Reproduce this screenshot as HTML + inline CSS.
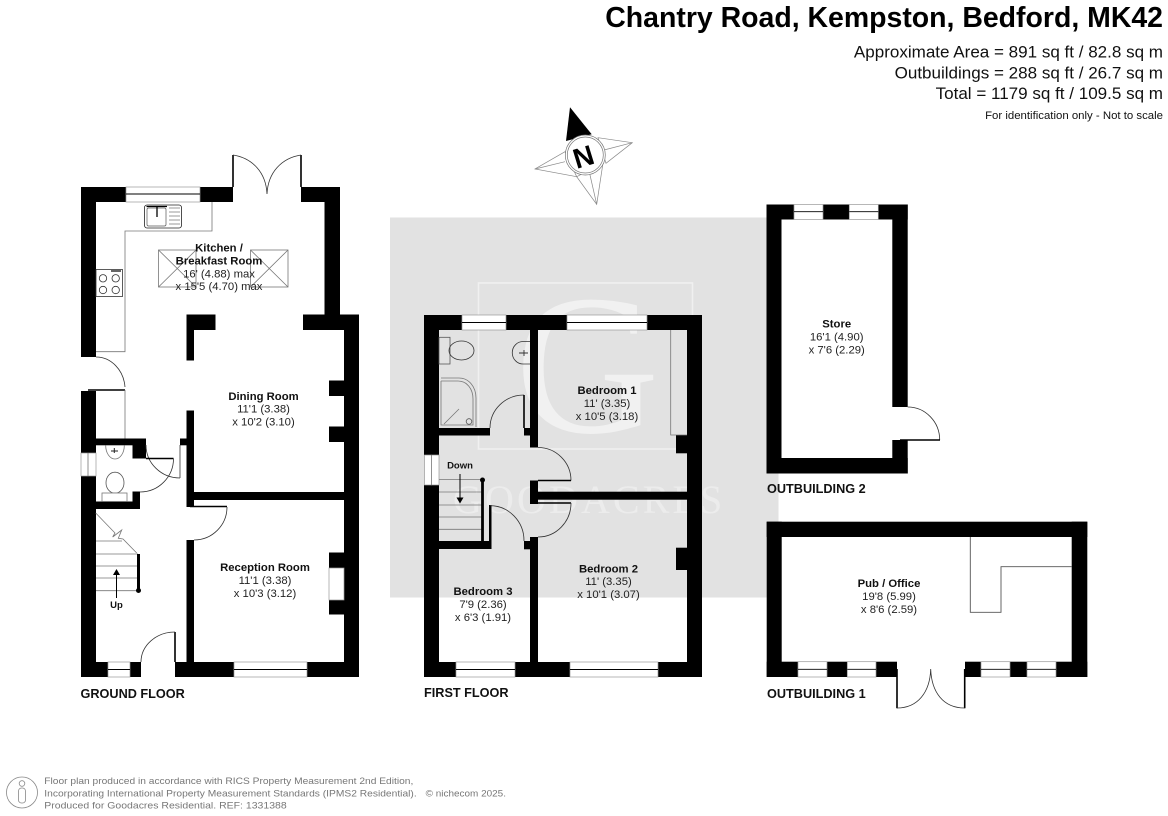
<!DOCTYPE html>
<html lang="en"><head><meta charset="utf-8"><title>Chantry Road Floor Plan</title>
<style>
html,body{margin:0;padding:0;background:#fff;width:1168px;height:816px;overflow:hidden}
svg{display:block}
text{font-family:"Liberation Sans",Arial,sans-serif;fill:#111}
.b{font-weight:bold;font-size:11.3px;text-anchor:middle}
.r{font-size:11.3px;text-anchor:middle;fill:#222}
.f{font-weight:bold;font-size:12.7px;fill:#111}
.h{text-anchor:end}
.ft{font-size:9.3px;fill:#777}
.w{fill:#000}
.win{fill:#fff;stroke:#999;stroke-width:.7}
.mid{stroke:#000;stroke-width:.9;fill:none}
.thin{stroke:#333;stroke-width:.8;fill:none}
.gr{stroke:#777;stroke-width:.8;fill:none}
.leaf{stroke:#000;stroke-width:1.6;fill:none}
</style></head><body>
<svg width="1168" height="816" viewBox="0 0 1168 816" xmlns="http://www.w3.org/2000/svg">
<rect width="1168" height="816" fill="#fff"/>

<!-- watermark -->
<rect x="390" y="217.5" width="388.500" height="380" fill="#e2e2e2"/>
<rect x="478.500" y="283" width="214" height="166" fill="none" stroke="#f0f0f0" stroke-width="1.600"/>
<text x="515" y="432" style="font-family:'Liberation Serif',serif;font-size:200px;fill:#f1f1f1">G</text>
<text x="453" y="513" style="font-family:'Liberation Serif',serif;font-size:40px;letter-spacing:3.100px;fill:#ececec">GOODACRES</text>

<!-- heading -->
<text x="1163" y="27" class="h" style="font-size:28.450px;font-weight:bold;fill:#000">Chantry Road, Kempston, Bedford, MK42</text>
<text x="1163" y="57.500" class="h" style="font-size:17.050px">Approximate Area = 891 sq ft / 82.8 sq m</text>
<text x="1163" y="78.500" class="h" style="font-size:17.050px">Outbuildings = 288 sq ft / 26.7 sq m</text>
<text x="1163" y="99" class="h" style="font-size:17.050px">Total = 1179 sq ft / 109.5 sq m</text>
<text x="1163" y="119" class="h" style="font-size:11.400px">For identification only - Not to scale</text>

<!-- compass -->
<g>
<polygon points="570,107.300 566,141 591.700,134.300" fill="#000"/>
<polygon points="598,137.700 632.300,142.700 606,163.300" fill="#fff" stroke="#888" stroke-width=".7"/>
<polygon points="603,163 596.700,204.300 576.700,176.700" fill="#fff" stroke="#888" stroke-width=".7"/>
<polygon points="565,151.700 535,169 576.700,176.700" fill="#fff" stroke="#888" stroke-width=".7"/>
<path d="M632.300 142.700L604 150M596.700 204.300L590 175M535 169L565 161.700" stroke="#888" stroke-width=".7" fill="none"/>
<circle cx="585.300" cy="155" r="20" fill="#fff" stroke="#777" stroke-width=".7"/>
<circle cx="585.300" cy="155" r="18" fill="#fff" stroke="#777" stroke-width=".7"/>
<text x="583.500" y="166.500" transform="rotate(-17 583.500 157)" style="font-size:28px;font-weight:bold;text-anchor:middle;fill:#000">N</text>
</g>

<!-- GROUND FLOOR walls -->
<g class="w">
<rect x="81" y="187" width="45" height="15"/>
<rect x="200" y="187" width="33" height="15"/>
<rect x="301" y="187" width="39" height="15"/>
<rect x="81" y="187" width="15" height="170"/>
<rect x="324.500" y="187" width="15.500" height="130"/>
<rect x="303" y="314.500" width="56" height="15.500"/>
<rect x="344" y="314.500" width="15" height="362.500"/>
<rect x="186.500" y="314.500" width="29" height="15.500"/>
<rect x="186.500" y="314.500" width="7.500" height="46"/>
<rect x="186.500" y="410.500" width="7.500" height="96.500"/>
<rect x="186.500" y="492" width="157.500" height="8"/>
<rect x="186.500" y="540" width="7.500" height="122"/>
<rect x="329" y="380.500" width="15" height="15.500"/>
<rect x="329" y="426.500" width="15" height="15.500"/>
<rect x="329" y="552.500" width="15" height="15.500"/>
<rect x="329" y="600" width="15" height="14.500"/>
<rect x="81" y="391" width="15" height="62"/>
<rect x="81" y="476" width="15" height="201"/>
<rect x="81" y="662" width="27" height="15"/>
<rect x="130" y="662" width="11" height="15"/>
<rect x="175" y="662" width="59" height="15"/>
<rect x="307" y="662" width="52" height="15"/>
<rect x="96" y="438.500" width="50" height="6.800"/>
<rect x="132.500" y="445" width="13.500" height="13.500"/>
<rect x="132.500" y="491.500" width="7.500" height="17.500"/>
<rect x="96" y="501.500" width="44" height="7.500"/>
<rect x="180" y="438.500" width="6.500" height="6.800"/>
</g>
<!-- ground windows -->
<rect x="126" y="187" width="74" height="15" class="win"/><path d="M126 194H200" class="mid"/>
<rect x="108" y="662" width="22" height="15" class="win"/><path d="M108 669.500H130" class="mid"/>
<rect x="234" y="662" width="73" height="15" class="win"/><path d="M234 669.500H307" class="mid"/>
<rect x="81" y="453" width="15" height="23" class="win"/><path d="M88 453V476" class="gr"/>
<rect x="329" y="568" width="15" height="32" class="win"/>
<!-- ground doors -->
<path d="M233 155V187M301 155V187" class="leaf"/>
<path d="M233 155C252 158 266 172 267 194M301 155C282 158 268 172 267 194" class="thin"/>
<path d="M96 357A29 33 0 0 1 125 387" class="thin"/>
<path d="M88 390H125" class="leaf"/>
<path d="M146 445A34 33 0 0 0 180 478" class="thin"/>
<path d="M180 445V478" class="thin"/>
<path d="M146 458.500H173.500" class="leaf"/>
<path d="M173.500 458.500A33.500 33.500 0 0 1 140 492" class="thin"/>
<path d="M190 506.500H227" class="leaf"/>
<path d="M227 507A33 33 0 0 1 194 540" class="thin"/>
<path d="M175 632V662" class="leaf"/>
<path d="M175 632A34 30 0 0 0 141 662" class="thin"/>
<!-- kitchen units -->
<path d="M212 202V231H125V351.700H96M125 390V438.500" class="gr"/>
<rect x="144.500" y="205" width="37" height="23" rx="2.500" fill="#fff" stroke="#222" stroke-width=".8"/>
<rect x="147" y="208" width="19" height="18" rx="1.500" fill="none" stroke="#555" stroke-width=".7"/>
<path d="M169 208H180M169 212H180M169 216H180M169 220H180M169 224H180" class="gr"/>
<path d="M146.500 206.500H167" stroke="#000" stroke-width="1.200"/>
<path d="M157 207V217" stroke="#000" stroke-width="1.300"/>
<rect x="96" y="269.500" width="26.500" height="27" fill="#fff" stroke="#333" stroke-width=".8"/>
<path d="M111 271H121" stroke="#000" stroke-width="1.200"/>
<g class="thin"><circle cx="103" cy="278.300" r="3.700"/><circle cx="115.700" cy="278.300" r="3.700"/><circle cx="103" cy="290" r="3.700"/><circle cx="115.700" cy="290" r="3.700"/></g>
<!-- skylights -->
<g class="gr">
<rect x="158.500" y="250" width="37.500" height="37"/><path d="M158.500 250L196 287M196 250L158.500 287"/>
<rect x="250.500" y="250" width="37.500" height="37"/><path d="M250.500 250L288 287M288 250L250.500 287"/>
</g>
<!-- cloakroom -->
<path d="M105.700 445.500A9.300 13.500 0 0 0 124.300 445.500" class="gr"/>
<path d="M114.300 448V453M111 451H118" stroke="#222" stroke-width="1"/>
<ellipse cx="115" cy="482.700" rx="9" ry="10.500" fill="#fff" stroke="#555" stroke-width=".8"/>
<rect x="102" y="493" width="25" height="8.500" fill="#fff" stroke="#777" stroke-width=".8"/>
<!-- ground stairs -->
<path d="M96 541H122M96 554H138M96 566H138M96 578H138M96 590.700H138" class="gr"/>
<path d="M95.700 513L115 533L112.700 537L121.700 530L118.300 538.300L123 539L136.700 553" class="gr"/>
<path d="M138.500 554V590.500" stroke="#000" stroke-width="3"/><circle cx="138.500" cy="590.500" r="2.500" fill="#000"/>
<path d="M116.500 598V574" stroke="#000" stroke-width="1"/><polygon points="116.500,569 113,575 120,575" fill="#000"/>
<text x="116.500" y="608" style="font-weight:bold;font-size:9.500px;text-anchor:middle">Up</text>

<!-- ground text -->
<text class="b" x="219" y="251.500">Kitchen /</text>
<text class="b" x="219" y="264.500">Breakfast Room</text>
<text class="r" x="219" y="277.500">16' (4.88) max</text>
<text class="r" x="219" y="290">x 15'5 (4.70) max</text>
<text class="b" x="263.500" y="400">Dining Room</text>
<text class="r" x="263.500" y="412.500">11'1 (3.38)</text>
<text class="r" x="263.500" y="425.500">x 10'2 (3.10)</text>
<text class="b" x="265" y="571">Reception Room</text>
<text class="r" x="265" y="584">11'1 (3.38)</text>
<text class="r" x="265" y="597">x 10'3 (3.12)</text>
<text class="f" x="80.500" y="698">GROUND FLOOR</text>

<!-- FIRST FLOOR walls -->
<g class="w">
<rect x="424" y="315" width="38" height="15"/>
<rect x="506" y="315" width="61" height="15"/>
<rect x="647" y="315" width="55" height="15"/>
<rect x="424" y="315" width="15" height="140"/>
<rect x="424" y="485" width="15" height="192"/>
<rect x="687" y="315" width="15" height="362"/>
<rect x="424" y="662" width="32" height="15"/>
<rect x="515" y="662" width="55" height="15"/>
<rect x="658" y="662" width="44" height="15"/>
<rect x="530" y="330" width="8" height="117.500"/>
<rect x="530" y="480.500" width="8" height="23.500"/>
<rect x="530" y="491.700" width="157" height="8"/>
<rect x="530" y="537" width="8" height="125"/>
<rect x="524" y="541" width="6" height="8.300"/>
<rect x="439" y="541" width="52" height="8"/>
<rect x="489" y="505" width="2.500" height="44"/>
<rect x="439" y="428" width="51" height="7.500"/>
<rect x="524" y="428" width="6" height="7.500"/>
<rect x="676" y="435" width="11" height="18.300"/>
<rect x="676" y="547.700" width="11" height="22.300"/>
</g>
<!-- first windows -->
<rect x="462" y="315" width="44" height="15" class="win"/><path d="M462 322.500H506" class="mid"/>
<rect x="567" y="315" width="80" height="15" class="win"/><path d="M567 322.500H647" class="mid"/>
<rect x="456" y="662" width="59" height="15" class="win"/><path d="M456 669.500H515" class="mid"/>
<rect x="570" y="662" width="88" height="15" class="win"/><path d="M570 669.500H658" class="mid"/>
<rect x="424.500" y="455" width="14.500" height="30" class="win"/><path d="M431.500 455V485" class="gr"/>
<!-- first doors -->
<path d="M538 447.500A33 33 0 0 1 571 480.500" class="thin"/>
<path d="M538 480.500H571M538 503H571" class="leaf"/>
<path d="M571 503A33 34 0 0 1 538 537" class="thin"/>
<path d="M490 505.700A34 35 0 0 1 524 541" class="thin"/>
<path d="M524 395A34 33 0 0 0 490 428" class="thin"/>
<path d="M524 395V428" class="leaf"/>
<!-- wardrobe -->
<path d="M670.700 330V435H687" class="gr"/>
<!-- bathroom -->
<rect x="439" y="337.300" width="11" height="26.700" fill="none" stroke="#555" stroke-width=".8"/>
<ellipse cx="461.500" cy="350.500" rx="12.500" ry="9.500" fill="none" stroke="#333" stroke-width=".8"/>
<path d="M530 341.500H523A10.500 11 0 0 0 523 364H530" class="thin"/>
<path d="M519 353H528M524 350V356" stroke="#333" stroke-width=".9"/>
<path d="M441 378H459C469 378 476 387 476 398V427" class="gr"/>
<path d="M441 381H458C467 381 473 389 473 399V425H441V381" class="gr"/>
<path d="M444 424L459 409" class="gr"/>
<circle cx="469" cy="421.500" r="2.800" fill="none" stroke="#555" stroke-width=".8"/>
<!-- first stairs -->
<path d="M439 479.500H482M439 492H482M439 505H482M439 517H482M439 529.300H482" class="gr"/>
<path d="M482.500 480V541" stroke="#000" stroke-width="2.800"/><circle cx="482.500" cy="480" r="2.500" fill="#000"/>
<path d="M460 474V498" stroke="#000" stroke-width="1"/><polygon points="460,503.500 456.500,497.500 463.500,497.500" fill="#000"/>
<text x="460" y="468.500" style="font-weight:bold;font-size:9.500px;text-anchor:middle">Down</text>

<!-- first text -->
<text class="b" x="607" y="394">Bedroom 1</text>
<text class="r" x="607" y="407">11' (3.35)</text>
<text class="r" x="607" y="420">x 10'5 (3.18)</text>
<text class="b" x="608.500" y="572.500">Bedroom 2</text>
<text class="r" x="608.500" y="585">11' (3.35)</text>
<text class="r" x="608.500" y="598">x 10'1 (3.07)</text>
<text class="b" x="483" y="595">Bedroom 3</text>
<text class="r" x="483" y="608">7'9 (2.36)</text>
<text class="r" x="483" y="621">x 6'3 (1.91)</text>
<text class="f" x="424" y="697">FIRST FLOOR</text>

<!-- OUTBUILDING 2 -->
<g class="w">
<rect x="766.500" y="204.500" width="27.500" height="15"/>
<rect x="823" y="204.500" width="26.300" height="15"/>
<rect x="878.300" y="204.500" width="29.400" height="15"/>
<rect x="766.500" y="204.500" width="15" height="269"/>
<rect x="892.300" y="204.500" width="15.400" height="202.500"/>
<rect x="892.300" y="440" width="15.400" height="33.500"/>
<rect x="766.500" y="458" width="141.200" height="15.500"/>
</g>
<rect x="794" y="204.500" width="29" height="15" class="win"/><path d="M794 211.700H823" class="mid"/>
<rect x="849.300" y="204.500" width="29" height="15" class="win"/><path d="M849.300 211.700H878.300" class="mid"/>
<path d="M907.700 407A32 33 0 0 1 939.700 440" class="thin"/>
<path d="M900 440H940" class="leaf"/>
<text class="b" x="836.700" y="327.500">Store</text>
<text class="r" x="836.700" y="340.500">16'1 (4.90)</text>
<text class="r" x="836.700" y="353.500">x 7'6 (2.29)</text>
<text class="f" x="767" y="493">OUTBUILDING 2</text>

<!-- OUTBUILDING 1 -->
<g class="w">
<rect x="766.700" y="521.700" width="320.600" height="15.300"/>
<rect x="766.700" y="521.700" width="15" height="155.300"/>
<rect x="1071.700" y="521.700" width="15.600" height="155.300"/>
<rect x="766.700" y="661.700" width="31.300" height="15.300"/>
<rect x="827" y="661.700" width="20.300" height="15.300"/>
<rect x="876" y="661.700" width="21" height="15.300"/>
<rect x="965" y="661.700" width="16" height="15.300"/>
<rect x="1010" y="661.700" width="17" height="15.300"/>
<rect x="1056" y="661.700" width="31.300" height="15.300"/>
</g>
<rect x="798" y="661.700" width="29" height="15.300" class="win"/><path d="M798 669.300H827" class="mid"/>
<rect x="847.300" y="661.700" width="28.700" height="15.300" class="win"/><path d="M847.300 669.300H876" class="mid"/>
<rect x="981" y="661.700" width="29" height="15.300" class="win"/><path d="M981 669.300H1010" class="mid"/>
<rect x="1027" y="661.700" width="29" height="15.300" class="win"/><path d="M1027 669.300H1056" class="mid"/>
<path d="M897 669V708.300M964.700 669V708.300" class="leaf"/>
<path d="M897 708C918 708 930 692 930.700 669C931.500 692 943 708 964.700 708" class="thin"/>
<path d="M970.300 537V612.300H1001V566.700H1071.700" stroke="#555" stroke-width=".9" fill="none"/>
<text class="b" x="889" y="587">Pub / Office</text>
<text class="r" x="889" y="600">19'8 (5.99)</text>
<text class="r" x="889" y="613">x 8'6 (2.59)</text>
<text class="f" x="767" y="698">OUTBUILDING 1</text>

<!-- footer -->
<circle cx="22" cy="792.500" r="15.500" fill="none" stroke="#888" stroke-width=".8"/>
<circle cx="22" cy="783.500" r="2.800" fill="none" stroke="#888" stroke-width=".8"/>
<rect x="18.500" y="788" width="7" height="15" rx="3" fill="none" stroke="#888" stroke-width=".8"/>
<text class="ft" x="44.300" y="784" textLength="369" lengthAdjust="spacingAndGlyphs">Floor plan produced in accordance with RICS Property Measurement 2nd Edition,</text>
<text class="ft" x="44.300" y="796.500" textLength="372.400" lengthAdjust="spacingAndGlyphs">Incorporating International Property Measurement Standards (IPMS2 Residential).</text>
<text class="ft" x="425.700" y="796.500" textLength="80.300" lengthAdjust="spacingAndGlyphs">© nichecom 2025.</text>
<text class="ft" x="44.300" y="808.500" textLength="242.400" lengthAdjust="spacingAndGlyphs">Produced for Goodacres Residential.   REF: 1331388</text>
</svg>
</body></html>
